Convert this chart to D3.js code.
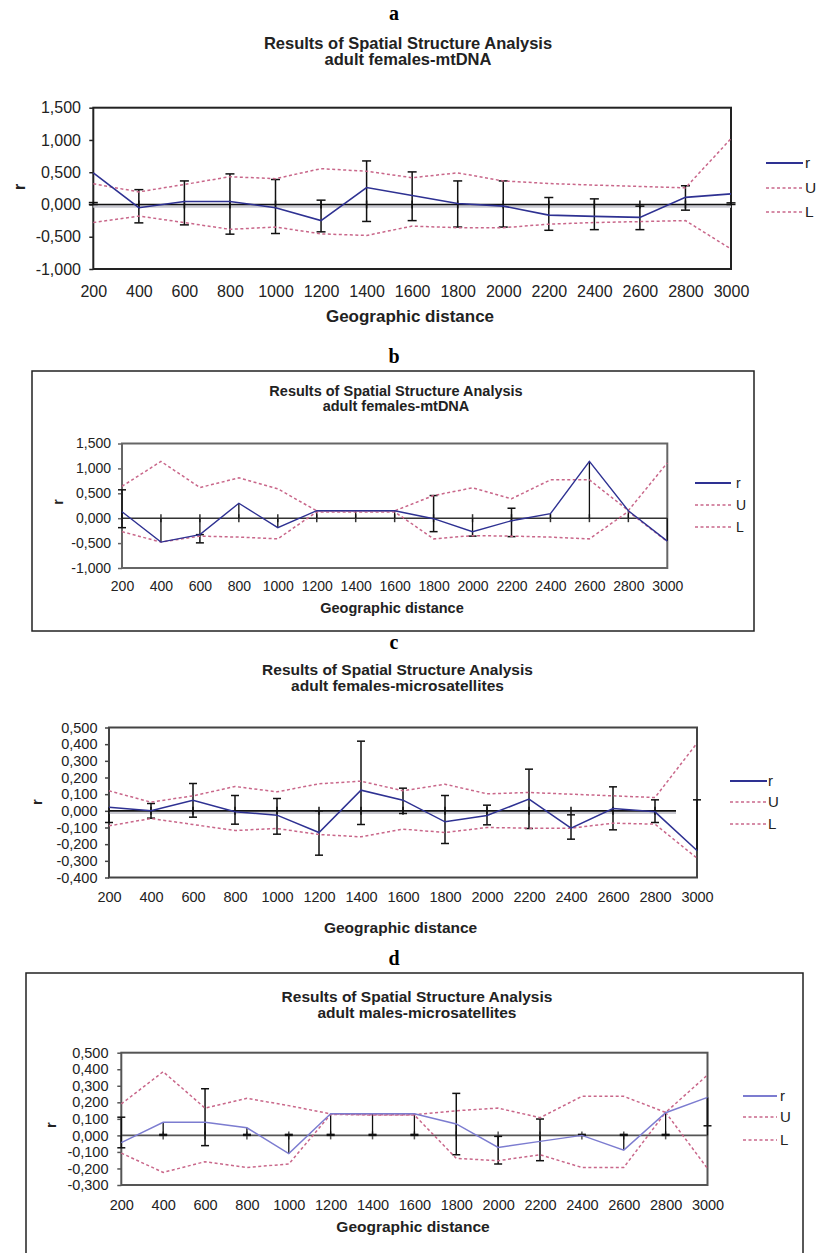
<!DOCTYPE html>
<html>
<head>
<meta charset="utf-8">
<script src="https://cdn.jsdelivr.net/npm/d3@7"></script>
<style>
  body { margin: 0; background: #fff; }
  svg { display: block; font-family: "Liberation Sans", Arial, sans-serif; }
</style>
</head>
<body>
<svg id="chart" width="818" height="1253"></svg>
<script>
// ---- data ----
const distances = [200, 400, 600, 800, 1000, 1200, 1400, 1600, 1800, 2000, 2200, 2400, 2600, 2800, 3000];
const seriesNames = ['r', 'U', 'L'];
const panelLetters = ['a', 'b', 'c', 'd'];
const titleLine = 'Results of Spatial Structure Analysis';
const subtitles = ['adult females-mtDNA', 'adult females-mtDNA', 'adult females-microsatellites', 'adult males-microsatellites'];
const xTitle = 'Geographic distance';
const yTitle = 'r';

const yTicksMtdna = [-1, -0.5, 0, 0.5, 1, 1.5];
const yTicksFemMsat = [-0.4, -0.3, -0.2, -0.1, 0, 0.1, 0.2, 0.3, 0.4, 0.5];
const yTicksMaleMsat = [-0.3, -0.2, -0.1, 0, 0.1, 0.2, 0.3, 0.4, 0.5];

// a: adult females, mtDNA
const aR = [0.49, -0.05, 0.046, 0.046, -0.05, -0.25, 0.263, 0.14, 0.015, -0.025, -0.165, -0.185, -0.2, 0.11, 0.165];
const aU = [0.32, 0.195, 0.31, 0.43, 0.4, 0.555, 0.515, 0.415, 0.49, 0.365, 0.325, 0.3, 0.28, 0.258, 1.02];
const aL = [-0.28, -0.18, -0.28, -0.385, -0.35, -0.455, -0.48, -0.335, -0.36, -0.36, -0.305, -0.28, -0.265, -0.25, -0.69];
const aCiLo = [0, -0.285, -0.316, -0.46, -0.45, -0.424, -0.263, -0.25, -0.35, -0.35, -0.4, -0.39, -0.39, -0.088, 0];
const aCiHi = [0.03, 0.23, 0.365, 0.474, 0.387, 0.067, 0.675, 0.505, 0.365, 0.365, 0.108, 0.087, -0.026, 0.29, 0.025];

// b: adult females, mtDNA (second run)
const bR = [0.13, -0.48, -0.33, 0.3, -0.19, 0.15, 0.15, 0.15, -0.01, -0.27, -0.05, 0.09, 1.14, 0.15, -0.46];
const bU = [0.64, 1.14, 0.616, 0.81, 0.59, 0.147, 0.147, 0.147, 0.455, 0.61, 0.39, 0.77, 0.77, 0.154, 1.11];
const bL = [-0.27, -0.48, -0.36, -0.38, -0.415, 0.127, 0.127, 0.127, -0.415, -0.35, -0.36, -0.38, -0.415, 0.134, -0.47];
const bCiLo = [-0.19, null, -0.495, null, null, null, null, null, -0.27, -0.36, -0.37, null, null, null, null];
const bCiHi = [0.57, null, -0.33, null, null, null, null, null, 0.455, null, 0.2, null, null, null, null];

// c: adult females, microsatellites
const cR = [0.022, 0.0, 0.064, -0.006, -0.026, -0.13, 0.124, 0.064, -0.066, -0.028, 0.07, -0.104, 0.014, -0.006, -0.238];
const cU = [0.12, 0.052, 0.09, 0.146, 0.114, 0.162, 0.178, 0.12, 0.16, 0.102, 0.11, 0.1, 0.09, 0.08, 0.406];
const cL = [-0.09, -0.046, -0.082, -0.118, -0.106, -0.142, -0.156, -0.11, -0.13, -0.1, -0.104, -0.104, -0.074, -0.08, -0.284];
const cCiLo = [-0.07, -0.044, -0.038, -0.08, -0.14, -0.266, -0.082, -0.016, -0.196, -0.084, -0.106, -0.17, -0.114, -0.07, null];
const cCiHi = [null, 0.044, 0.164, 0.092, 0.074, 0.0, 0.418, 0.136, 0.092, 0.034, 0.25, -0.024, 0.144, 0.066, 0.066];

// d: adult males, microsatellites
const dR = [-0.044, 0.079, 0.079, 0.046, -0.11, 0.131, 0.131, 0.131, 0.069, -0.073, -0.036, 0.0, -0.089, 0.137, 0.23];
const dU = [0.19, 0.385, 0.165, 0.224, 0.18, 0.13, 0.125, 0.125, 0.149, 0.165, 0.107, 0.236, 0.236, 0.139, 0.365];
const dL = [-0.107, -0.224, -0.159, -0.194, -0.173, 0.127, 0.123, 0.123, -0.139, -0.153, -0.117, -0.194, -0.194, 0.139, -0.2];
const dCiLo = [-0.075, 0, -0.062, 0, 0, 0, 0, 0, -0.117, -0.173, -0.153, 0, 0, 0, null];
const dCiHi = [0.11, 0.006, 0.282, 0.006, 0.006, 0.006, 0.006, 0.006, 0.254, -0.006, 0.099, 0.006, 0.006, 0.006, 0.058];

// ---- layout ----
const PINK = '#c9678a';

const panels = [
  {
    letterY: 20, box: null,
    titleX: 408, titleY: [49, 65.3], titleFs: 16.5,
    plot: { l: 93.3, r: 731, t: 107.7, b: 269 }, domain: [-1, 1.5], ticks: yTicksMtdna,
    tickFs: 16, tickRight: 81, xLabelY: 297.3,
    gdX: 410, gdY: 322, gdFs: 17, rLabel: [19, 187], rFs: 16,
    legend: { x1: 766, x2: 803, tx: 805, ys: [163, 188, 212], fs: 15.5 },
    capW: 9, rColor: '#2e3192', rWidth: 1.6, stems: false,
    zeroColor: '#111', zeroShadow: true, zeroToMid: false, frameColor: '#222',
    r: aR, u: aU, lo: aL, ciLo: aCiLo, ciHi: aCiHi,
  },
  {
    letterY: 363, box: { x: 32, y: 371, w: 722, h: 260 },
    titleX: 396, titleY: [396, 410.7], titleFs: 14.5,
    plot: { l: 122, r: 667.3, t: 443.5, b: 568 }, domain: [-1, 1.5], ticks: yTicksMtdna,
    tickFs: 14, tickRight: 111, xLabelY: 590.7,
    gdX: 392, gdY: 613.3, gdFs: 14.5, rLabel: [58, 502], rFs: 14,
    legend: { x1: 695, x2: 731, tx: 736, ys: [483, 505, 527], fs: 14 },
    capW: 8, rColor: '#2e3192', rWidth: 1.4, stems: true,
    zeroColor: '#333', zeroShadow: false, zeroToMid: false, frameColor: '#666',
    r: bR, u: bU, lo: bL, ciLo: bCiLo, ciHi: bCiHi,
  },
  {
    letterY: 648.5, box: null,
    titleX: 397.5, titleY: [675, 691], titleFs: 15.5,
    plot: { l: 109, r: 697, t: 727.5, b: 877.5 }, domain: [-0.4, 0.5], ticks: yTicksFemMsat,
    tickFs: 14.5, tickRight: 97.5, xLabelY: 901.7,
    gdX: 400.6, gdY: 932.7, gdFs: 15.5, rLabel: [37, 802], rFs: 15,
    legend: { x1: 730, x2: 767, tx: 768, ys: [781, 802, 824], fs: 15 },
    capW: 8, rColor: '#2e3192', rWidth: 1.5, stems: false,
    zeroColor: '#111', zeroShadow: true, zeroToMid: true, frameColor: '#444',
    r: cR, u: cU, lo: cL, ciLo: cCiLo, ciHi: cCiHi,
  },
  {
    letterY: 965, box: { x: 26, y: 973, w: 777, h: 300 },
    titleX: 417, titleY: [1002.3, 1017.7], titleFs: 15.5,
    plot: { l: 121.3, r: 707.5, t: 1052.7, b: 1185 }, domain: [-0.3, 0.5], ticks: yTicksMaleMsat,
    tickFs: 14.5, tickRight: 108.5, xLabelY: 1210,
    gdX: 413, gdY: 1232.3, gdFs: 15.5, rLabel: [51, 1125], rFs: 15,
    legend: { x1: 743, x2: 777, tx: 780, ys: [1096, 1117, 1140], fs: 15 },
    capW: 8, rColor: '#7c7cd0', rWidth: 1.4, stems: true,
    zeroColor: '#555', zeroShadow: false, zeroToMid: false, frameColor: '#555',
    r: dR, u: dU, lo: dL, ciLo: dCiLo, ciHi: dCiHi,
  },
];

const locale = d3.formatLocale({ decimal: ',', thousands: '.', grouping: [3], currency: ['', ''], minus: '-' });
const fmt = locale.format('.3f');

const svg = d3.select('#chart');

panels.forEach((p, i) => {
  const g = svg.append('g').attr('class', `panel panel-${panelLetters[i]}`);
  const { l, r, t, b } = p.plot;

  const x = d3.scalePoint().domain(distances).range([l, r]);
  const y = d3.scaleLinear().domain(p.domain).range([b, t]);

  // outer box
  if (p.box) {
    g.append('rect')
      .attr('x', p.box.x).attr('y', p.box.y)
      .attr('width', p.box.w).attr('height', p.box.h)
      .attr('fill', 'none').attr('stroke', '#222').attr('stroke-width', 1.5);
  }

  // panel letter
  g.append('text')
    .attr('x', 394).attr('y', p.letterY)
    .attr('text-anchor', 'middle')
    .attr('font-family', '"Liberation Serif", "Times New Roman", serif')
    .attr('font-weight', 'bold').attr('font-size', 20)
    .text(panelLetters[i]);

  // title
  [titleLine, subtitles[i]].forEach((s, k) => {
    g.append('text')
      .attr('x', p.titleX).attr('y', p.titleY[k])
      .attr('text-anchor', 'middle')
      .attr('font-weight', 'bold').attr('font-size', p.titleFs)
      .attr('fill', '#222')
      .text(s);
  });

  // y axis
  const tickSize = 4;
  const yAxis = d3.axisLeft(y)
    .tickValues(p.ticks)
    .tickSize(tickSize)
    .tickPadding(l - p.tickRight - tickSize)
    .tickFormat(fmt);
  const ya = g.append('g')
    .attr('transform', `translate(${l},0)`)
    .call(yAxis);
  ya.select('.domain').remove();
  ya.selectAll('line').attr('stroke', p.frameColor).attr('stroke-width', 1.5);
  ya.selectAll('text')
    .attr('font-family', '"Liberation Sans", Arial, sans-serif')
    .attr('font-size', p.tickFs).attr('fill', '#222');

  // x labels
  const xAxis = d3.axisBottom(x).tickSize(0);
  const xa = g.append('g')
    .attr('transform', `translate(0,${p.xLabelY})`)
    .call(xAxis);
  xa.select('.domain').remove();
  xa.selectAll('text')
    .attr('y', 0).attr('dy', null)
    .attr('font-family', '"Liberation Sans", Arial, sans-serif')
    .attr('font-size', p.tickFs).attr('fill', '#222');

  // plot frame
  g.append('rect')
    .attr('x', l).attr('y', t)
    .attr('width', r - l).attr('height', b - t)
    .attr('fill', 'none').attr('stroke', p.frameColor).attr('stroke-width', 2);

  // zero line with category tick marks
  const y0 = y(0);
  const zeroEnd = p.zeroToMid ? (x(2800) + x(3000)) / 2 : r;
  if (p.zeroShadow) {
    g.append('line')
      .attr('x1', l).attr('x2', zeroEnd)
      .attr('y1', y0 + 2).attr('y2', y0 + 2)
      .attr('stroke', '#c8c8d0').attr('stroke-width', 2.5);
  }
  g.append('line')
    .attr('x1', l).attr('x2', zeroEnd)
    .attr('y1', y0).attr('y2', y0)
    .attr('stroke', p.zeroColor).attr('stroke-width', 1.6);
  g.selectAll('.zero-tick')
    .data(distances.slice(1, -1))
    .enter().append('line')
      .attr('class', 'zero-tick')
      .attr('x1', d => x(d)).attr('x2', d => x(d))
      .attr('y1', y0 - 4).attr('y2', y0 + 4)
      .attr('stroke', p.zeroColor).attr('stroke-width', 1.5);

  // stems from zero to r
  if (p.stems) {
    g.selectAll('.stem')
      .data(distances)
      .enter().append('line')
        .attr('class', 'stem')
        .attr('x1', d => x(d)).attr('x2', d => x(d))
        .attr('y1', y0).attr('y2', (d, j) => y(p.r[j]))
        .attr('stroke', '#111').attr('stroke-width', 1.3);
  }

  // error bars
  const ebData = distances.map((d, j) => ({ d, lo: p.ciLo[j], hi: p.ciHi[j], r: p.r[j] }))
    .filter(e => e.lo !== null || e.hi !== null);
  const eb = g.selectAll('.eb').data(ebData).enter().append('g').attr('class', 'eb');
  eb.append('line')
    .attr('x1', e => x(e.d)).attr('x2', e => x(e.d))
    .attr('y1', e => y(e.lo !== null ? e.lo : e.r))
    .attr('y2', e => y(e.hi !== null ? e.hi : e.r))
    .attr('stroke', '#111').attr('stroke-width', 1.5);
  eb.filter(e => e.lo !== null).append('line')
    .attr('x1', e => x(e.d) - p.capW / 2).attr('x2', e => x(e.d) + p.capW / 2)
    .attr('y1', e => y(e.lo)).attr('y2', e => y(e.lo))
    .attr('stroke', '#111').attr('stroke-width', 1.5);
  eb.filter(e => e.hi !== null).append('line')
    .attr('x1', e => x(e.d) - p.capW / 2).attr('x2', e => x(e.d) + p.capW / 2)
    .attr('y1', e => y(e.hi)).attr('y2', e => y(e.hi))
    .attr('stroke', '#111').attr('stroke-width', 1.5);

  // series lines
  const line = d3.line().x((v, j) => x(distances[j])).y(v => y(v));
  [p.u, p.lo].forEach(vals => {
    g.append('path')
      .datum(vals)
      .attr('d', line)
      .attr('fill', 'none')
      .attr('stroke', PINK).attr('stroke-width', 1.5)
      .attr('stroke-dasharray', '3,2.5');
  });
  g.append('path')
    .datum(p.r)
    .attr('d', line)
    .attr('fill', 'none')
    .attr('stroke', p.rColor).attr('stroke-width', p.rWidth);

  // axis titles
  g.append('text')
    .attr('x', p.gdX).attr('y', p.gdY)
    .attr('text-anchor', 'middle')
    .attr('font-weight', 'bold').attr('font-size', p.gdFs).attr('fill', '#222')
    .text(xTitle);
  g.append('text')
    .attr('transform', `translate(${p.rLabel[0]},${p.rLabel[1]}) rotate(-90)`)
    .attr('text-anchor', 'middle').attr('dy', '0.35em')
    .attr('font-weight', 'bold').attr('font-size', p.rFs).attr('fill', '#222')
    .text(yTitle);

  // legend
  const lg = g.append('g').attr('class', 'legend');
  seriesNames.forEach((name, k) => {
    const ly = p.legend.ys[k];
    lg.append('line')
      .attr('x1', p.legend.x1).attr('x2', p.legend.x2)
      .attr('y1', ly).attr('y2', ly)
      .attr('stroke', k === 0 ? p.rColor : PINK)
      .attr('stroke-width', k === 0 ? 2 : 1.5)
      .attr('stroke-dasharray', k === 0 ? null : '3,2.5');
    lg.append('text')
      .attr('x', p.legend.tx).attr('y', ly).attr('dy', '0.35em')
      .attr('font-size', p.legend.fs).attr('fill', '#222')
      .text(name);
  });
});
</script>
</body>
</html>
